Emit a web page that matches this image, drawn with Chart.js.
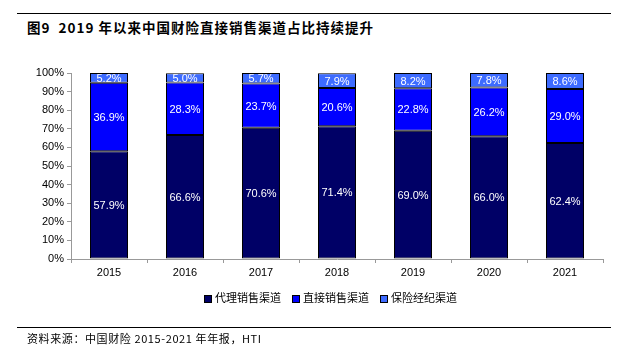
<!DOCTYPE html>
<html>
<head>
<meta charset="utf-8">
<script src="https://cdn.jsdelivr.net/npm/chart.js@4/dist/chart.umd.min.js"></script>
<style>
  body { margin:0; background:#fff; }
  #wrap { position:relative; width:627px; height:351px; font-family:"Noto Sans CJK SC", sans-serif; }
  .rule { position:absolute; left:17px; width:594px; height:1px; background:#000; }
  #title { position:absolute; left:27px; top:17px; font-size:13.5px; font-weight:bold; letter-spacing:1px; white-space:nowrap; }
  #source { position:absolute; left:27px; top:330px; font-size:11px; letter-spacing:0.6px; white-space:nowrap; }
  #legend { position:absolute; top:289px; left:0; width:627px; font-size:11px; }
  .item { position:absolute; top:0; white-space:nowrap; }
  .box { display:inline-block; width:6px; height:6px; border:1px solid #000; margin-right:3px; vertical-align:-1px; }
  canvas { position:absolute; left:0; top:0; }
</style>
</head>
<body>
<div id="wrap">
  <div class="rule" style="top:13px"></div>
  <div id="title">图9&nbsp;&nbsp;2019 年以来中国财险直接销售渠道占比持续提升</div>
  <canvas id="myChart" width="627" height="351"></canvas>
  <div id="legend"></div>
  <div class="rule" style="top:327px"></div>
  <div id="source">资料来源：中国财险 2015-2021 年年报，HTI</div>
</div>
<script>
// data
const years = ["2015", "2016", "2017", "2018", "2019", "2020", "2021"];
const agentShare = [57.9, 66.6, 70.6, 71.4, 69.0, 66.0, 62.4];
const directShare = [36.9, 28.3, 23.7, 20.6, 22.8, 26.2, 29.0];
const brokerShare = [5.2, 5.0, 5.7, 7.9, 8.2, 7.8, 8.6];
const seriesNames = ["代理销售渠道", "直接销售渠道", "保险经纪渠道"];
const seriesColors = ["#000066", "#0000ff", "#3d6bff"];

// labels in the middle of every segment
const segLabels = {
  id: 'segLabels',
  afterDatasetsDraw(chart) {
    const ctx = chart.ctx;
    ctx.save();
    ctx.fillStyle = '#fff';
    ctx.font = '11px "Liberation Sans", Arial, sans-serif';
    ctx.textAlign = 'center';
    ctx.textBaseline = 'middle';
    chart.data.datasets.forEach((ds, i) => {
      chart.getDatasetMeta(i).data.forEach((bar, j) => {
        const mid = (bar.y + bar.base) / 2;
        ctx.fillText(ds.data[j].toFixed(1) + '%', bar.x, mid + 1);
      });
    });
    ctx.restore();
  }
};

const datasets = [agentShare, directShare, brokerShare].map((vals, i) => ({
  label: seriesNames[i],
  data: vals,
  backgroundColor: seriesColors[i],
  borderColor: '#000',
  borderWidth: 1,
  borderSkipped: false,
  barPercentage: 0.5,
  categoryPercentage: 1.0
}));

const config = {
  type: 'bar',
  data: { labels: years, datasets: datasets },
  plugins: [segLabels],
  options: {
    responsive: false,
    animation: false,
    layout: { padding: { left: 0, right: 24, top: 73, bottom: 67 } },
    plugins: { legend: { display: false }, tooltip: { enabled: false } },
    scales: {
      x: {
        stacked: true,
        grid: { offset: true, drawOnChartArea: false, tickLength: 4, color: '#999' },
        border: { color: '#999' },
        ticks: { color: '#000', font: { size: 11, family: '"Liberation Sans", Arial' }, padding: 3 },
        afterFit: (s) => { s.height = 25; }
      },
      y: {
        stacked: true,
        min: 0, max: 100,
        grid: { drawOnChartArea: false, tickLength: 4, color: '#999' },
        border: { color: '#999' },
        ticks: { stepSize: 10, color: '#000', font: { size: 11, family: '"Liberation Sans", Arial' }, padding: 3,
                 callback: (v) => v + '%' },
        afterFit: (s) => { s.width = 71; }
      }
    }
  }
};

const myChart = new Chart(document.getElementById('myChart'), config);

// legend
const legendX = [204, 292, 380];
const legend = document.getElementById('legend');
seriesNames.forEach((name, i) => {
  const el = document.createElement('div');
  el.className = 'item';
  el.style.left = legendX[i] + 'px';
  el.innerHTML = '<span class="box" style="background:' + seriesColors[i] + '"></span>' + name;
  legend.appendChild(el);
});
</script>
</body>
</html>
